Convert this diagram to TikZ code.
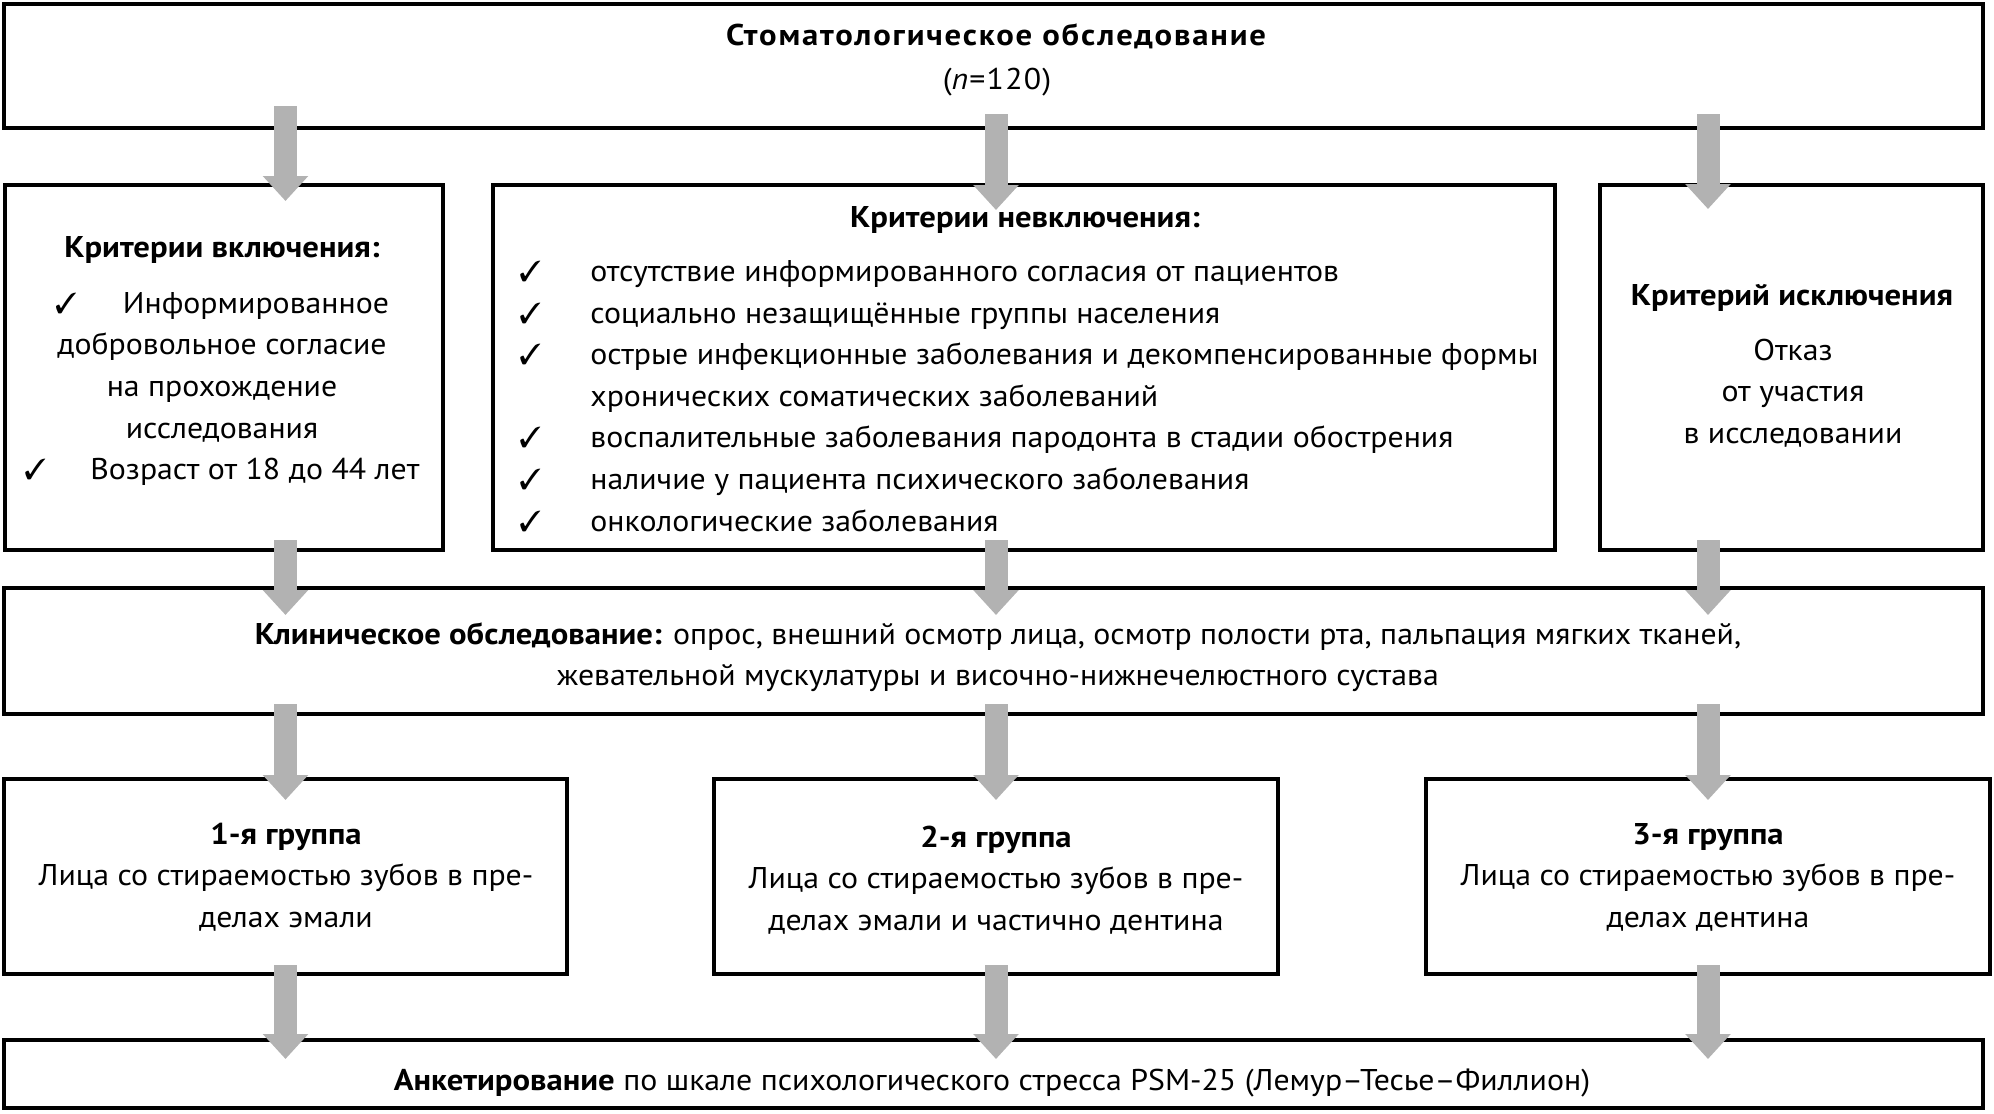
\documentclass[tikz,border=0pt]{standalone}
\usepackage{fontspec}
\setmainfont{PT Sans}[UprightFeatures={FakeStretch=1.06}, BoldFeatures={FakeStretch=1.09}, ItalicFeatures={FakeStretch=1.06}]
\usepackage{pifont}
\usetikzlibrary{arrows.meta,fit,calc}
\definecolor{arrgray}{RGB}{178,178,178}
\newcommand\ck{{\fontsize{14.5}{14.5}\selectfont\ding{51}}}
\newcommand\chk{\makebox[35.5pt][l]{\ck}}
\tikzset{
  box/.style={draw=black, line width=2.3pt, inner sep=0pt, outer sep=0pt},
  txt/.style={font=\fontsize{15}{20.8}\selectfont, inner sep=0pt, align=center},
  bigarr/.style={draw=arrgray, line width=11.5pt, -{Triangle[width=22pt,length=12.5pt]}}
}
\begin{document}
\begin{tikzpicture}[x=0.5pt,y=-0.5pt]
\useasboundingbox (0,0) rectangle (1994,1114);
% boxes
\node[box, fit={(4,4)(1983,128)}] (top) {};
\node[box, fit={(5,185)(443,550)}] (incl) {};
\node[box, fit={(493,185)(1555,550)}] (nonincl) {};
\node[box, fit={(1600,185)(1983,550)}] (excl) {};
\node[box, fit={(4,588)(1983,714)}] (clin) {};
\node[box, fit={(4,779)(567,974)}] (g1) {};
\node[box, fit={(714,779)(1278,974)}] (g2) {};
\node[box, fit={(1426,779)(1990,974)}] (g3) {};
\node[box, fit={(4,1040)(1983,1108)}] (quest) {};
% texts
\node[txt] (toptxt) at (997,60) {{\addfontfeature{LetterSpace=6}\textbf{Стоматологическое обследование}}\\[1.5pt]{\addfontfeature{LetterSpace=4}(\textit{n}=120)}};
\node[txt] (incltitle) at (222,250) {\textbf{Критерии включения:}};
\node[txt] (incltxt) at (222,389) {\ck\hspace{23pt}Информированное\\добровольное согласие\\на прохождение\\исследования\\\ck\hspace{22pt}Возраст от 18 до 44 лет};
\node[txt] (nontitle) at (1025,220) {\textbf{Критерии невключения:}};
\node[txt, align=left, anchor=west] (nontxt) at (519,396) {\chk отсутствие информированного согласия от пациентов\\
\chk социально незащищённые группы населения\\
\chk острые инфекционные заболевания и декомпенсированные формы\\
\hspace*{35.5pt}хронических соматических заболеваний\\
\chk воспалительные заболевания пародонта в стадии обострения\\
\chk наличие у пациента психического заболевания\\
\chk онкологические заболевания};
\node[txt] (excltitle) at (1792,298) {\textbf{Критерий исключения}};
\node[txt] (excltxt) at (1793,393) {Отказ\\от участия\\в исследовании};
\node[txt] (clintxt) at (998,657) {\textbf{Клиническое обследование:} опрос, внешний осмотр лица, осмотр полости рта, пальпация мягких тканей,\\жевательной мускулатуры и височно-нижнечелюстного сустава};
\node[txt] (g1txt) at (286,877) {\textbf{1-я группа}\\Лица со стираемостью зубов в пре-\\делах эмали};
\node[txt] (g2txt) at (996,880) {\textbf{2-я группа}\\Лица со стираемостью зубов в пре-\\делах эмали и частично дентина};
\node[txt] (g3txt) at (1708,877) {\textbf{3-я группа}\\Лица со стираемостью зубов в пре-\\делах дентина};
\node[txt] (questtxt) at (992,1083) {\textbf{Анкетирование} по шкале психологического стресса PSM-25 (Лемур–Тесье–Филлион)};
% arrows
\draw[bigarr] ($(top.south -| g1)+(0,-22)$) -- ($(incl.north -| g1)+(0,16)$);
\draw[bigarr] ($(top.south -| g2)+(0,-14)$) -- ($(nonincl.north -| g2)+(0,25)$);
\draw[bigarr] ($(top.south -| g3)+(0,-14)$) -- ($(excl.north -| g3)+(0,24)$);
\draw[bigarr] ($(incl.south -| g1)+(0,-10)$) -- ($(clin.north -| g1)+(0,27)$);
\draw[bigarr] ($(nonincl.south -| g2)+(0,-10)$) -- ($(clin.north -| g2)+(0,27)$);
\draw[bigarr] ($(excl.south -| g3)+(0,-10)$) -- ($(clin.north -| g3)+(0,27)$);
\draw[bigarr] ($(clin.south -| g1)+(0,-10)$) -- ($(g1.north)+(0,21)$);
\draw[bigarr] ($(clin.south -| g2)+(0,-10)$) -- ($(g2.north)+(0,21)$);
\draw[bigarr] ($(clin.south -| g3)+(0,-10)$) -- ($(g3.north)+(0,21)$);
\draw[bigarr] ($(g1.south)+(0,-9)$) -- ($(quest.north -| g1)+(0,19)$);
\draw[bigarr] ($(g2.south)+(0,-9)$) -- ($(quest.north -| g2)+(0,19)$);
\draw[bigarr] ($(g3.south)+(0,-9)$) -- ($(quest.north -| g3)+(0,19)$);
\end{tikzpicture}
\end{document}
